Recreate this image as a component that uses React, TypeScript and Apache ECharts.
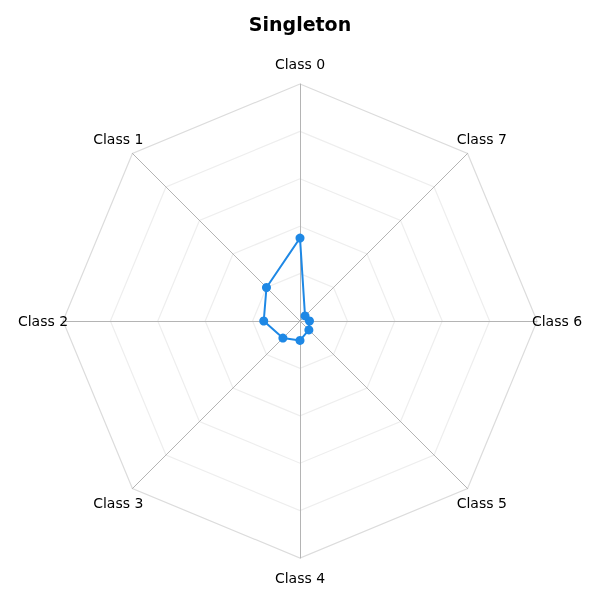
import React, { useEffect, useRef } from 'react'
import * as echarts from 'echarts'

const classNames = ['Class 0', 'Class 1', 'Class 2', 'Class 3', 'Class 4', 'Class 5', 'Class 6', 'Class 7']
const singletonValues = [0.35, 0.2, 0.153, 0.102, 0.082, 0.053, 0.04, 0.03]
const axisMax = 1

export default function App() {
  const chartRef: any = useRef()

  useEffect(() => {
    const myChart = echarts.init(chartRef.current, null, { renderer: 'svg' })
    const option = {
      animation: false,
      title: {
        text: 'Singleton',
        left: 'center',
        top: 9,
        textStyle: { fontFamily: 'DejaVu Sans', fontSize: 19, fontWeight: 'bold', color: '#000' }
      },
      radar: {
        center: [300, 321],
        radius: 237,
        startAngle: 90,
        splitNumber: 5,
        shape: 'polygon',
        indicator: classNames.map((name) => ({ name, max: axisMax, min: 0 })),
        nameGap: 20,
        axisName: {
          color: '#000',
          fontFamily: 'DejaVu Sans',
          fontSize: 14,
          align: 'center',
          verticalAlign: 'middle'
        },
        axisLine: { lineStyle: { color: '#b4b4b4', width: 1 } },
        axisTick: { show: false },
        splitLine: {
          lineStyle: { color: ['#eeeeee', '#eeeeee', '#eeeeee', '#eeeeee', '#eeeeee', '#dcdcdc'], width: 1.2 }
        },
        splitArea: { show: false }
      },
      series: [
        {
          type: 'radar',
          symbol: 'circle',
          symbolSize: 9,
          lineStyle: { color: '#1e88e5', width: 2 },
          itemStyle: { color: '#1e88e5' },
          data: [{ value: singletonValues, name: 'Singleton' }]
        }
      ]
    }
    myChart.setOption(option)
    return () => {
      myChart.dispose()
    }
  }, [])

  return <div ref={chartRef} style={{ position: 'fixed', left: 0, top: 0, width: '600px', height: '600px' }} />
}
